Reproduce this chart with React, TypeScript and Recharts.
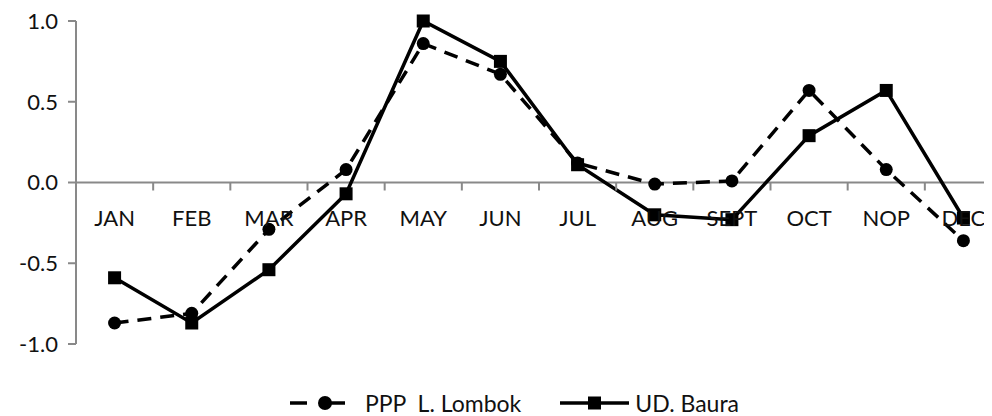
import React from 'react';
import { LineChart, Line, XAxis, YAxis, ReferenceLine, Legend } from 'recharts';

const months = ['JAN', 'FEB', 'MAR', 'APR', 'MAY', 'JUN', 'JUL', 'AUG', 'SEPT', 'OCT', 'NOP', 'DEC'];
const pppLombok = [-0.87, -0.81, -0.29, 0.08, 0.86, 0.67, 0.12, -0.01, 0.01, 0.57, 0.08, -0.36];
const udBaura = [-0.59, -0.87, -0.54, -0.07, 1.0, 0.75, 0.11, -0.2, -0.23, 0.29, 0.57, -0.22];
const yTicks = [-1, -0.5, 0, 0.5, 1];
const seriesNames = ['PPP  L. Lombok', 'UD. Baura'];

const data = months.map((m, i) => ({ month: m, ppp: pppLombok[i], ud: udBaura[i] }));

const CHART_W = 1000;
const CHART_H = 408;
const MARGIN = { top: 13, right: 6, left: 0, bottom: 1 };
const YAXIS_W = 68;
const XAXIS_H = 47;
const LEGEND_H = 24;
const PLOT_W = CHART_W - MARGIN.left - MARGIN.right - YAXIS_W;
const PLOT_H = CHART_H - MARGIN.top - MARGIN.bottom - XAXIS_H - LEGEND_H;
const FONT = 'Lato, sans-serif';
const AXIS_COLOR = '#898989';

const XTick = (props: any) => {
  const { x, y, payload, index } = props;
  const zeroY = y - PLOT_H / 2; // domain [-1, 1] -> zero at middle of plot
  const bw = PLOT_W / months.length;
  const left = x - bw / 2;
  const right = x + bw / 2;
  return (
    <g>
      <path d={`M${left},${zeroY}V${zeroY + 8}`} stroke={AXIS_COLOR} strokeWidth={2} fill="none" />
      {index === months.length - 1 && (
        <path d={`M${right},${zeroY}V${zeroY + 8}`} stroke={AXIS_COLOR} strokeWidth={2} fill="none" />
      )}
      <text x={x} y={zeroY + 36} dy="0.355em" textAnchor="middle" fill="#111" fontSize={22} fontFamily={FONT}>
        {payload.value}
      </text>
    </g>
  );
};

const CircleDot = (props: any) => {
  const { cx, cy, index } = props;
  return <circle key={`c${index}`} cx={cx} cy={cy} r={6.5} fill="#000" />;
};

const SquareDot = (props: any) => {
  const { cx, cy, index } = props;
  return <rect key={`s${index}`} x={cx - 6.5} y={cy - 6.5} width={13} height={13} fill="#000" />;
};

const LegendContent = (props: any) => {
  const payload = props.payload || [];
  return (
    <div style={{ display: 'flex', alignItems: 'center', height: LEGEND_H, paddingLeft: 282, fontFamily: FONT, fontSize: 23, color: '#111' }}>
      {payload.map((p: any, i: number) => (
        <div key={i} style={{ display: 'flex', alignItems: 'center', marginRight: i === 0 ? 39 : 0 }}>
          {i === 0 ? (
            <svg width={55} height={20} style={{ marginRight: 20, flexShrink: 0 }}>
              <line x1={0} x2={17} y1={10} y2={10} stroke="#000" strokeWidth={3.5} />
              <circle cx={35} cy={10} r={7} fill="#000" />
              <line x1={35} x2={55} y1={10} y2={10} stroke="#000" strokeWidth={3.5} />
            </svg>
          ) : (
            <svg width={69} height={20} style={{ marginRight: 6, flexShrink: 0 }}>
              <line x1={0} x2={69} y1={10} y2={10} stroke="#000" strokeWidth={3.5} />
              <rect x={28} y={3.5} width={13} height={13} fill="#000" />
            </svg>
          )}
          <span style={{ whiteSpace: 'pre' }}>{p.value}</span>
        </div>
      ))}
    </div>
  );
};

export default function App() {
  return (
    <div style={{ width: 984, height: CHART_H, overflow: 'hidden', position: 'relative' }}>
      <LineChart width={CHART_W} height={CHART_H} data={data} margin={MARGIN} style={{ fontFamily: FONT }}>
        <XAxis
          dataKey="month"
          scale="band"
          height={XAXIS_H}
          axisLine={false}
          tickLine={false}
          tickSize={0}
          tickMargin={0}
          interval={0}
          tick={<XTick />}
        />
        <YAxis
          width={YAXIS_W}
          domain={[-1, 1]}
          ticks={yTicks}
          tickFormatter={(v: number) => v.toFixed(1)}
          axisLine={{ stroke: AXIS_COLOR, strokeWidth: 2 }}
          tickLine={{ stroke: AXIS_COLOR, strokeWidth: 2 }}
          tickSize={8}
          tickMargin={10}
          tick={{ fill: '#111', fontSize: 22, fontFamily: FONT }}
        />
        <ReferenceLine y={0} stroke={AXIS_COLOR} strokeWidth={2} />
        <Legend verticalAlign="bottom" height={LEGEND_H} content={<LegendContent />} />
        <Line
          type="linear"
          dataKey="ppp"
          name={seriesNames[0]}
          stroke="#000"
          strokeWidth={3.5}
          strokeDasharray="14 9"
          dot={<CircleDot />}
          activeDot={false}
          isAnimationActive={false}
        />
        <Line
          type="linear"
          dataKey="ud"
          name={seriesNames[1]}
          stroke="#000"
          strokeWidth={3.5}
          dot={<SquareDot />}
          activeDot={false}
          isAnimationActive={false}
        />
      </LineChart>
    </div>
  );
}
